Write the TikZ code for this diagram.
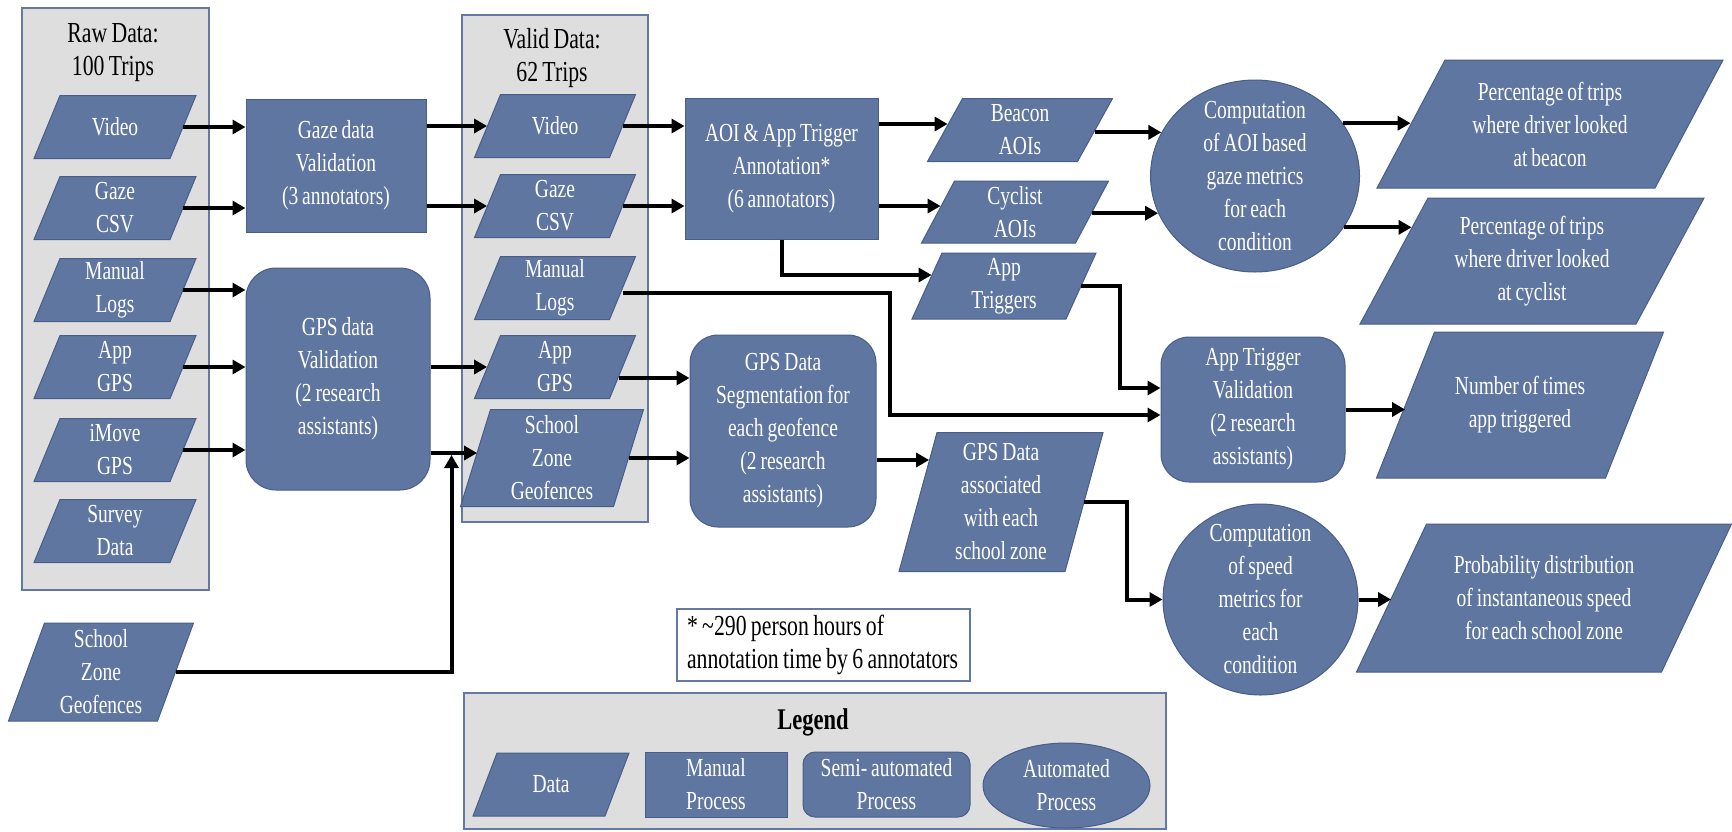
\documentclass[tikz,border=0pt]{standalone}
\usepackage{fontspec}
\setmainfont{Liberation Serif}[FakeStretch=0.75,WordSpace=0.8]
\usetikzlibrary{shapes.geometric,arrows.meta,calc}
\definecolor{nb}{RGB}{95,118,160}
\definecolor{ne}{RGB}{72,94,138}
\definecolor{cg}{RGB}{222,222,222}
\definecolor{ce}{RGB}{100,120,165}
\tikzset{
 sz/.style 2 args={minimum width=#1*0.5pt, minimum height=#2*0.5pt},
 txt/.style={inner sep=0pt, align=center, text=white, font=\fontsize{13}{16.5}\selectfont},
 datfill/.style={fill=nb, draw=ne, line width=0.5pt},
 manual/.style={txt, draw=ne, fill=nb, line width=0.5pt},
 semi/.style={manual, rounded corners=14pt},
 autom/.style={ellipse, draw=ne, fill=nb, line width=0.5pt, inner sep=0pt},
 container/.style={draw=ce, fill=cg, line width=0.8pt},
 arr/.style={line width=2pt, -{Triangle[length=6.5pt,width=7pt]}},
 ttl/.style={inner sep=0pt, align=center, text=black, font=\fontsize{14.5}{16.5}\selectfont},
}
% name, cx, cy, w, h, skew, text
\newcommand\dat[7]{%
  \filldraw[datfill] ({#2-#4/2-#6/2},{#3+#5/2}) -- ({#2+#4/2-#6/2},{#3+#5/2}) -- ({#2+#4/2+#6/2},{#3-#5/2}) -- ({#2-#4/2+#6/2},{#3-#5/2}) -- cycle;
  \node[txt, sz={#4}{#5}] (#1) at (#2,#3) {#7};
}
\begin{document}
\begin{tikzpicture}[x=0.5pt,y=-0.5pt]
\useasboundingbox (0,0) rectangle (1732,831);
% containers
\filldraw[container] (22,8) rectangle (209,590);
\filldraw[container] (462,15) rectangle (648,522);
\filldraw[container] (464,693) rectangle (1166,829);
\node[ttl] (rawT) at (113,53) {Raw Data:\\100 Trips};
\node[ttl] (validT) at (552,58) {Valid Data:\\62 Trips};
\node[inner sep=0pt, text=black, font=\fontsize{15}{16}\selectfont\bfseries] (legT) at (813,722) {Legend};
% raw data
\dat{rvideo}{115}{127}{136}{63}{26}{Video}
\dat{rgaze}{115}{208}{136}{63}{26}{Gaze\\CSV}
\dat{rmanual}{115}{290}{136}{63}{26}{Manual\\Logs}
\dat{rappgps}{115}{367}{136}{63}{26}{App\\GPS}
\dat{rimove}{115}{450}{136}{63}{26}{iMove\\GPS}
\dat{rsurvey}{115}{531}{136}{63}{26}{Survey\\Data}
\dat{lszg}{101}{672}{149}{98}{36}{School\\Zone\\Geofences}
% valid data
\dat{vvideo}{555}{126}{135}{63}{26}{Video}
\dat{vgaze}{555}{206}{135}{63}{26}{Gaze\\CSV}
\dat{vmanual}{555}{288}{135}{63}{26}{Manual\\Logs}
\dat{vappgps}{555}{367}{135}{63}{26}{App\\GPS}
\dat{vszg}{552}{458}{153}{97}{30}{School\\Zone\\Geofences}
% other data
\dat{bea}{1020}{130}{150}{63}{35}{Beacon\\AOIs}
\dat{cyc}{1015}{212}{154}{62}{33}{Cyclist\\AOIs}
\dat{atr}{1004}{286}{154}{66}{30}{App\\Triggers}
\dat{gpsa}{1001}{502}{166}{139}{38}{GPS Data\\associated\\with each\\school zone}
\dat{pb}{1550}{124}{278}{128}{68}{Percentage of trips\\where driver looked\\at beacon}
\dat{pc}{1532}{261}{276}{126}{68}{Percentage of trips\\where driver looked\\at cyclist}
\dat{nt}{1520}{405}{229}{146}{58}{Number of times\\app triggered}
\dat{pd}{1544}{598}{305}{148}{70}{Probability distribution\\of instantaneous speed\\for each school zone}
\dat{ld}{551}{784.5}{132}{63}{24}{Data}
% processes
\node[manual, sz={180}{133}] (gazeval) at (336,165.5) {Gaze data\\Validation\\(3 annotators)};
\node[manual, sz={193}{141}] (aoi) at (781.5,168.5) {AOI \& App Trigger\\Annotation*\\(6 annotators)};
\node[manual, sz={142}{65}] (lman) at (716,784.5) {Manual\\Process};
\node[semi, sz={184}{222}, rounded corners=15pt] (gpsval) at (338,379) {GPS data\\Validation\\(2 research\\assistants)};
\node[semi, sz={186}{192}] (seg) at (783,431) {GPS Data\\Segmentation for\\each geofence\\(2 research\\assistants)};
\node[semi, sz={184}{145}] (atv) at (1253,409.5) {App Trigger\\Validation\\(2 research\\assistants)};
\node[semi, sz={167}{65}, rounded corners=6pt] (lsemi) at (886.5,784.5) {Semi- automated\\Process};
\node[autom, sz={209}{192}] (aoim) at (1255,176) {};
\node[txt] (aoimT) at (aoim) {Computation\\of AOI based\\gaze metrics\\for each\\condition};
\node[autom, sz={195}{191}] (speed) at (1260.5,599.5) {};
\node[txt] (speedT) at (speed) {Computation\\of speed\\metrics for\\each\\condition};
\node[autom, sz={167}{85}] (lauto) at (1066.5,785.5) {};
\node[txt] (lautoT) at (lauto) {Automated\\Process};
% footnote
\node[draw=ce, fill=white, line width=0.6pt, text=black, inner xsep=5pt, inner ysep=0pt,
      text width=136.5pt, minimum height=36pt, align=flush left, font=\fontsize{14.5}{16.5}\selectfont]
  (note) at (823.5,645) {* \textasciitilde290 person hours of\\annotation time by 6 annotators};
% connectors
\draw[arr] (rvideo.east) -- (rvideo.east -| gazeval.west);
\draw[arr] (rgaze.east) -- (rgaze.east -| gazeval.west);
\draw[arr] (rmanual.east) -- (rmanual.east -| gpsval.west);
\draw[arr] (rappgps.east) -- (rappgps.east -| gpsval.west);
\draw[arr] (rimove.east) -- (rimove.east -| gpsval.west);
\draw[arr] (gazeval.east |- vvideo.west) -- (vvideo.west);
\draw[arr] (gazeval.east |- vgaze.west) -- (vgaze.west);
\draw[arr] (gpsval.east |- vappgps.west) -- (vappgps.west);
\coordinate (vszgIn) at ($(vszg.west)+(2,-5)$);
\draw[arr] (gpsval.east |- vszgIn) -- (vszgIn);
\coordinate (jn) at ($(gpsval.east |- vszgIn)+(21,0)$);
\draw[arr, shorten >=1pt] (lszg.east) -| (jn);
\draw[arr] (vvideo.east) -- (vvideo.east -| aoi.west);
\draw[arr] (vgaze.east) -- (vgaze.east -| aoi.west);
\coordinate (atvIn2) at ($(atv.west)+(0,5.5)$);
\draw[arr] ([yshift=-2.5pt]vmanual.east) -| ($(atvIn2)+(-271,0)$) -- (atvIn2);
\coordinate (vagOut) at ($(vappgps.east)+(-4,11)$);
\draw[arr] (vagOut) -- (vagOut -| seg.west);
\draw[arr] (vszg.east) -- (vszg.east -| seg.west);
\coordinate (gpsaIn) at ($(gpsa.west)+(11.5,-42)$);
\draw[arr] (seg.east |- gpsaIn) -- (gpsaIn);
\coordinate (beaIn) at ($(bea.west)+(3,-6)$);
\draw[arr] (aoi.east |- beaIn) -- (beaIn);
\coordinate (cycIn) at ($(cyc.west)+(3,-6)$);
\draw[arr] (aoi.east |- cycIn) -- (cycIn);
\coordinate (atrIn) at ($(atr.west)+(5,-11)$);
\draw[arr] (aoi.south) |- (atrIn);
\draw[arr] (bea.east |- aoim.155) -- (aoim.155);
\draw[arr] (cyc.east |- aoim.201) -- (aoim.201);
\draw[arr] (aoim.31) -- (aoim.31 -| pb.west);
\coordinate (pcIn) at ($(pc.west)+(18,-34)$);
\draw[arr] (aoim.330) -- (pcIn |- aoim.330);
\coordinate (atvIn1) at ($(atv.west)+(0,-21.5)$);
\draw[arr] (atr.east) -| ($(atvIn1)+(-41,0)$) -- (atvIn1);
\draw[arr] (atv.east) -- (atv.east -| nt.west);
\draw[arr] (gpsa.east) -| ($(speed.west)+(-36,0)$) -- (speed.west);
\draw[arr] (speed.east) -- (speed.east -| pd.west);
\end{tikzpicture}
\end{document}
